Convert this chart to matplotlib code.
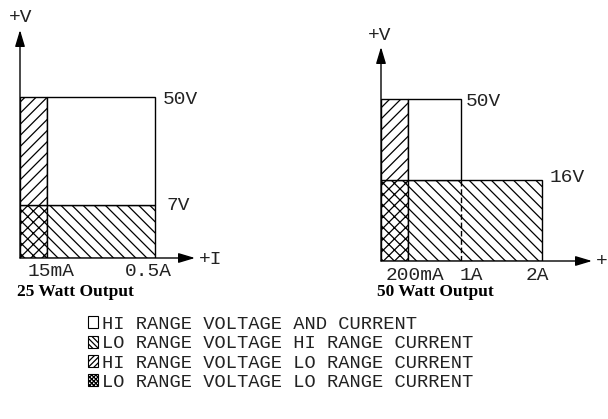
import numpy as np
import matplotlib.pyplot as plt
from matplotlib.patches import Patch

plt.rcParams['font.family'] = ['Liberation Mono', 'DejaVu Sans']
plt.rcParams['hatch.linewidth'] = 0.9

# breakpoints (not to scale in the original drawing)
amps_25 = [0, 0.015, 0.5]
amp_labels_25 = ['15mA', '0.5A']
volts_25 = [0, 7, 50]
volt_labels_25 = ['7V', '50V']

amps_50 = [0, 0.2, 1, 2]
amp_labels_50 = ['200mA', '1A', '2A']
volts_50 = [0, 16, 50]
volt_labels_50 = ['16V', '50V']

# regions: (I from, I to, V from, V to, range kind)
regions_25 = [(0, 0.015, 0, 7, 'lolo'), (0, 0.015, 7, 50, 'hilo'),
              (0.015, 0.5, 0, 7, 'lohi'), (0.015, 0.5, 7, 50, 'hihi')]
regions_50 = [(0, 0.2, 0, 16, 'lolo'), (0, 0.2, 16, 50, 'hilo'),
              (0.2, 2, 0, 16, 'lohi'), (0.2, 1, 16, 50, 'hihi')]

legend_labels = ['HI RANGE VOLTAGE AND CURRENT', 'LO RANGE VOLTAGE HI RANGE CURRENT',
                 'HI RANGE VOLTAGE LO RANGE CURRENT', 'LO RANGE VOLTAGE LO RANGE CURRENT']

hatches = {'hihi': '', 'lohi': '\\\\\\', 'hilo': '///', 'lolo': 'xxx'}
legend_hatches = {'hihi': '', 'lohi': '\\\\\\\\\\\\', 'hilo': '//////', 'lolo': 'xxxxxxxx'}


def piecewise(src, dst):
    # piecewise linear map with linear extension past the ends
    src = np.asarray(src, float)
    dst = np.asarray(dst, float)
    s0 = (dst[1] - dst[0]) / (src[1] - src[0])
    s1 = (dst[-1] - dst[-2]) / (src[-1] - src[-2])

    def f(v):
        v = np.asarray(v, float)
        out = np.interp(v, src, dst)
        out = np.where(v > src[-1], dst[-1] + (v - src[-1]) * s1, out)
        out = np.where(v < src[0], dst[0] + (v - src[0]) * s0, out)
        return out
    return f


W, H = 608, 419
FS = 14
fig = plt.figure(figsize=(W / 100, H / 100), dpi=100)


def chart(origin, size, amps, amp_px, volts, volt_px, regions, amp_labels, amp_offs,
          volt_labels, volt_offs, title, title_x, vlabel_xy, ilabel_xy, dashed=None):
    ax = fig.add_axes([origin[0] / W, 1 - origin[1] / H, size[0] / W, size[1] / H])
    ax.set_xscale('function', functions=(piecewise(amps, amp_px), piecewise(amp_px, amps)))
    ax.set_yscale('function', functions=(piecewise(volts, volt_px), piecewise(volt_px, volts)))
    ax.set_xlim(0, float(piecewise(amp_px, amps)(size[0])))
    ax.set_ylim(0, float(piecewise(volt_px, volts)(size[1])))
    for s in ax.spines.values():
        s.set_visible(False)
    ax.set_xticks([])
    ax.set_yticks([])
    ax.patch.set_alpha(0)

    for i0, i1, v0, v1, kind in regions:
        ax.bar(i0, v1 - v0, width=i1 - i0, bottom=v0, align='edge', facecolor='white',
               edgecolor='black', linewidth=1.0, hatch=hatches[kind], zorder=2)
    if dashed is not None:
        ax.vlines(dashed[0], dashed[1], dashed[2], colors='black', linestyles=(0, (4, 2)),
                  linewidth=1.0, zorder=3)

    # axes with arrow heads
    arrow = dict(arrowstyle='-|>,head_length=1.0,head_width=0.3', color='black', lw=1.0,
                 shrinkA=0, shrinkB=0, mutation_scale=10)
    ax.annotate('', xy=(1, 0), xytext=(0, 0), xycoords='axes fraction', arrowprops=arrow)
    ax.annotate('', xy=(0, 1), xytext=(0, 0), xycoords='axes fraction', arrowprops=arrow)

    for a, lab, dx in zip(amps[1:], amp_labels, amp_offs):
        ax.annotate(lab, xy=(a, 0), xytext=(dx * 0.72, -14 * 0.72), textcoords='offset points',
                    ha='center', va='center', fontsize=FS, color='#222222')
    right = [max(r[1] for r in regions if r[3] >= v and r[2] < v) for v in volts[1:]]
    for v, x, lab, (dx, dy) in zip(volts[1:], right, volt_labels, volt_offs):
        ax.annotate(lab, xy=(x, v), xytext=(dx * 0.72, dy * 0.72), textcoords='offset points',
                    ha='left', va='center', fontsize=FS, color='#222222')

    fig.text(title_x / W, 1 - 292 / H, title, ha='center', va='center',
             family='Liberation Serif', fontweight='bold', fontsize=12.5)
    fig.text(vlabel_xy[0] / W, 1 - vlabel_xy[1] / H, '+V', ha='center', va='center',
             fontsize=FS, color='#222222')
    fig.text(ilabel_xy[0] / W, 1 - ilabel_xy[1] / H, '+I', ha='left', va='center',
             fontsize=FS, color='#222222')
    return ax


chart((20, 258), (175, 228), amps_25, [0, 27, 135], volts_25, [0, 53, 161], regions_25,
      amp_labels_25, [4, -7], volt_labels_25, [(12, 0), (8, -2)],
      '25 Watt Output', 75, (21, 18), (199, 259))
chart((381, 261), (211, 214), amps_50, [0, 27, 80, 161], volts_50, [0, 81, 162], regions_50,
      amp_labels_50, [7, 10, -5], volt_labels_50, [(8, 3), (5, -2)],
      '50 Watt Output', 435, (380, 36), (596, 262), dashed=(1, 0, 16))

handles = [Patch(facecolor='white', edgecolor='black', linewidth=0.8, hatch=legend_hatches[k])
           for k in ['hihi', 'lohi', 'hilo', 'lolo']]
fig.legend(handles, legend_labels, loc='upper left', bbox_to_anchor=(88 / W, 1 - 316 / H),
           frameon=False, borderpad=0, borderaxespad=0, handlelength=0.55, handleheight=0.6,
           handletextpad=0.2, labelspacing=0.12, prop={'family': 'Liberation Mono', 'size': 13.5},
           labelcolor='#222222')

fig.savefig('out.png', dpi=100)
